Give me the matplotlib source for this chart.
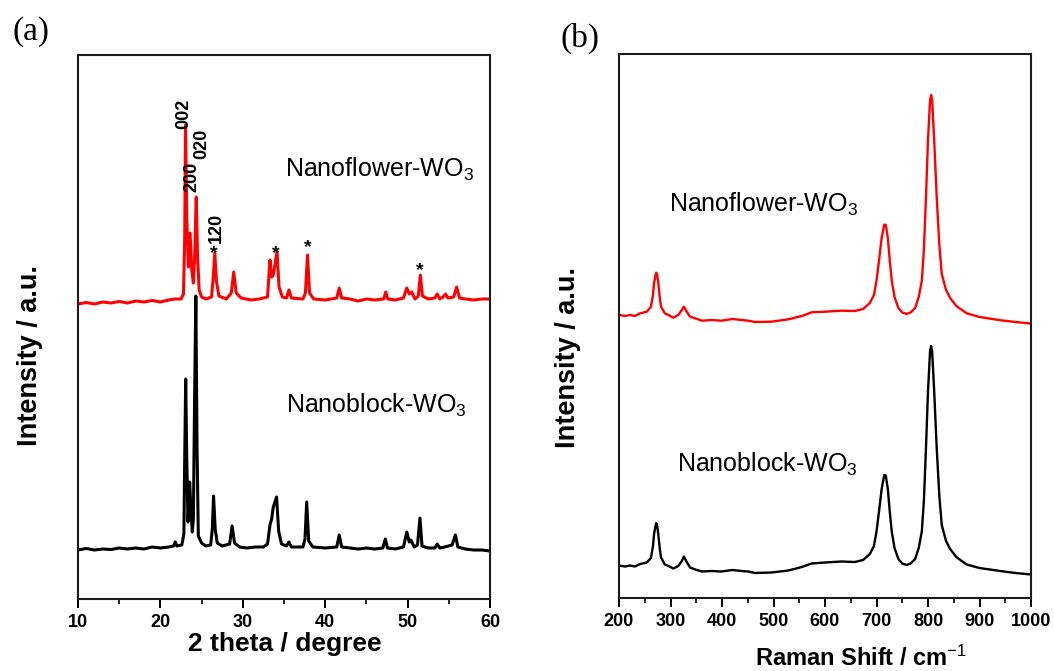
import matplotlib
matplotlib.use("Agg")
import matplotlib.pyplot as plt
from matplotlib.ticker import MultipleLocator

plt.rcParams['font.family'] = ['Liberation Sans', 'DejaVu Sans']
plt.rcParams['mathtext.fontset'] = 'custom'
plt.rcParams['mathtext.rm'] = 'Liberation Sans'
plt.rcParams['mathtext.it'] = 'Liberation Sans:italic'
plt.rcParams['mathtext.bf'] = 'Liberation Sans:bold'

# ---------------- XRD data (panel a) ----------------
xrd_flower_2theta = [10, 11, 12, 13, 14, 15, 16, 17, 18, 19, 20, 21, 21.8, 22.5, 22.8, 22.95,
                     23.05, 23.2, 23.4, 23.6, 23.8, 24.0, 24.15, 24.35, 24.5, 24.7, 25.0, 25.5,
                     26.2, 26.4, 26.6, 26.8, 27.1, 28.0, 28.6, 28.9, 29.2, 29.8, 31, 32, 33.0,
                     33.3, 33.5, 33.7, 34.15, 34.4, 34.8, 35.3, 35.6, 35.9, 37.3, 37.6, 37.85,
                     38.1, 38.6, 40, 41.4, 41.7, 42.0, 43, 44, 45, 46, 47.1, 47.35, 47.6, 48.5,
                     49.5, 49.9, 50.2, 50.5, 50.9, 51.3, 51.55, 51.8, 52.5, 53.3, 53.6, 53.9,
                     54.3, 54.6, 54.9, 55.6, 55.95, 56.3, 57, 58, 59, 60]
xrd_flower_int = [295, 296.5, 295, 297, 296, 297.5, 296, 298, 297, 298.5, 297, 299, 300, 300, 305, 360,
                  474, 380, 332, 366, 330, 316, 340, 402, 345, 309, 302, 300,
                  302, 320, 346, 318, 303, 300, 306, 327, 306, 301, 299, 300, 302,
                  339, 322, 324, 347, 312, 302, 301, 309, 301, 300, 306, 344,
                  306, 300, 299, 301, 311, 301, 300, 298, 300, 299, 300, 307, 300, 299,
                  301, 311, 305, 307, 300, 303, 324, 303, 300, 301, 305, 300,
                  302, 305, 301, 302, 312, 301, 300, 299, 300, 300]

xrd_block_2theta = [10, 11, 12, 13, 14, 15, 16, 17, 18, 19, 20, 21, 21.6, 21.8, 22.0, 22.6, 22.85,
                    22.95, 23.07, 23.2, 23.35, 23.55, 23.7, 23.87, 24.0, 24.15, 24.3, 24.45, 24.6,
                    25.0, 25.5, 26.1, 26.3, 26.45, 26.65, 26.9, 27.5, 28.4, 28.7, 29.0, 29.6, 30.5,
                    31.5, 32.5, 33.0, 33.3, 33.5, 33.7, 34.1, 34.35, 34.7, 35.3, 35.6, 35.9, 37.3,
                    37.55, 37.75, 38.0, 38.5, 40, 41.4, 41.7, 42.0, 43, 44, 45, 46, 47.0, 47.3,
                    47.55, 48.5, 49.5, 49.9, 50.2, 50.4, 50.8, 51.2, 51.5, 51.75, 52.5, 53.3, 53.6,
                    53.9, 54.5, 55.4, 55.8, 56.1, 57, 58, 59, 60]
xrd_block_int = [49, 50.5, 49, 50, 49.5, 51, 50, 51, 50, 52, 51, 52, 53, 57, 53, 54, 65,
                 140, 220, 140, 77, 117, 90, 67, 80, 200, 303, 150, 63,
                 56, 53, 54, 70, 103, 70, 56, 53, 55, 73, 56, 52, 51,
                 52, 52, 55, 74, 80, 92, 102, 68, 55, 53, 57, 52, 52,
                 60, 97, 58, 52, 51, 52, 64, 52, 51, 50, 51, 50, 51, 60,
                 51, 50, 52, 67, 57, 59, 52, 54, 81, 53, 51, 51, 55,
                 51, 52, 54, 64, 52, 50, 49, 49, 48]

hkl_labels = ['002', '200', '020', '120']
hkl_x = [22.8, 23.8, 25.05, 26.75]
hkl_y = [485.5, 422, 455, 371]
star_x = [26.5, 34.0, 37.9, 51.5]
star_y = [341, 341, 347, 323.5]

# ---------------- Raman data (panel b) ----------------
raman_shift = [200, 212, 221, 231, 241, 254, 262, 266, 268, 270.5, 272.5, 274.5, 276.4, 279,
               281.6, 289, 296, 305.5, 315, 322, 326, 331.5, 338, 348, 361, 380, 399, 420,
               438, 451, 464, 496, 529, 555, 574, 600, 632, 658, 674, 687, 695, 700, 705,
               710, 715, 718, 722, 726, 729.6, 735, 742.5, 750, 758.7, 766, 775, 782, 788,
               792, 796, 800, 804, 806, 808, 812, 817, 822, 826.7, 835, 843, 855, 875, 900,
               940, 970, 1000]
raman_flower = [283, 282, 283, 282, 284.7, 286.3, 291.3, 303, 314.7, 322, 325.3, 322, 314.7, 301,
                291.3, 284.7, 283, 280.3, 283, 288, 291.3, 286.3, 281.3, 279.7, 277.3, 278, 277.3, 279,
                278, 277.3, 276, 276.3, 278.7, 282, 285.7, 286.3, 287.3, 287, 289, 295, 303, 317.4, 338,
                360, 373.4, 373, 360, 336, 317.4, 301, 290, 285.5, 284, 285.5, 290, 301, 317.4,
                348, 400, 458, 498, 503, 498, 458, 400, 353, 324, 308, 300, 292, 284.7, 281,
                277.8, 276, 274.4]
raman_block = [32.5, 31.5, 32.5, 31.5, 34, 35.5, 40, 52, 63.5, 71, 75, 71, 63.5, 50,
               40.5, 33.5, 32, 29.5, 32, 37, 41.5, 36, 30.5, 28.5, 26.5, 27, 26.5, 28,
               27, 26.5, 25, 25.5, 27.5, 31, 34.5, 35.5, 36.5, 36, 38, 44, 52, 66.5, 87,
               109, 123, 122.5, 109, 85, 66.5, 50, 39, 34.5, 33, 34.5, 39, 50, 66.5,
               97, 149, 207, 247, 252, 247, 207, 149, 102, 73, 57, 49, 41, 33.5, 30,
               27, 25, 23.5]

W, H = 1054, 671
fig = plt.figure(figsize=(W / 100, H / 100), dpi=100)

axa = fig.add_axes([78 / W, 1 - 599 / H, 412 / W, 544 / H])
axb = fig.add_axes([619 / W, 1 - 598 / H, 412 / W, 544 / H])

for ax in (axa, axb):
    for s in ax.spines.values():
        s.set_linewidth(1.5)
        s.set_color('#1a1a1a')
    ax.tick_params(axis='x', which='major', direction='out', length=6.5, width=1.4,
                   labelsize=13, pad=4, top=False)
    ax.tick_params(axis='x', which='minor', direction='out', length=3.8, width=1.2, top=False)
    ax.tick_params(axis='y', which='both', left=False, right=False, labelleft=False)
    ax.set_ylim(0, 544)

# Panel (a)
axa.plot(xrd_flower_2theta, xrd_flower_int, color='#ff0000', lw=2.2)
axa.plot(xrd_block_2theta, xrd_block_int, color='black', lw=2.2)
axa.set_xlim(10, 60)
axa.xaxis.set_major_locator(MultipleLocator(10))
axa.xaxis.set_minor_locator(MultipleLocator(5))
for lab, x, y in zip(hkl_labels, hkl_x, hkl_y):
    axa.text(x, y, lab, rotation=90, ha='center', va='center', fontsize=13, fontweight='bold')
for x, y in zip(star_x, star_y):
    axa.text(x, y, '*', ha='center', va='baseline', fontsize=14, fontweight='bold')
axa.text(35.1, 422, 'Nanoflower-WO$_3$', fontsize=18, ha='left', va='baseline')
axa.text(35.3, 186, 'Nanoblock-WO$_3$', fontsize=18, ha='left', va='baseline')

# Panel (b)
axb.plot(raman_shift, raman_flower, color='#ff0000', lw=1.7)
axb.plot(raman_shift, raman_block, color='black', lw=1.7)
axb.set_xlim(200, 1000)
axb.xaxis.set_major_locator(MultipleLocator(100))
axb.xaxis.set_minor_locator(MultipleLocator(50))
axb.text(297, 386, 'Nanoflower-WO$_3$', fontsize=18, ha='left', va='baseline')
axb.text(312, 126.5, 'Nanoblock-WO$_3$', fontsize=18, ha='left', va='baseline')

for ax in (axa, axb):
    for lab in ax.get_xticklabels():
        lab.set_fontweight('bold')

# Axis labels
fig.text(285 / W, 1 - 651 / H, '2 theta / degree', ha='center', va='baseline',
         fontsize=19, fontweight='bold')
fig.text(755 / W, 1 - 666 / H, 'Raman Shift / cm$^{-1}$', ha='left', va='baseline',
         fontsize=17, fontweight='bold')
fig.text(30.5 / W, 1 - 356 / H, 'Intensity / a.u.', rotation=90, ha='center', va='center',
         fontsize=19.5, fontweight='bold')
fig.text(568 / W, 1 - 357 / H, 'Intensity / a.u.', rotation=90, ha='center', va='center',
         fontsize=19.5, fontweight='bold')

# Panel tags
fig.text(12 / W, 1 - 32 / H, '(a)', family='Liberation Serif', fontsize=24, ha='left', va='center')
fig.text(560 / W, 1 - 38 / H, '(b)', family='Liberation Serif', fontsize=24, ha='left', va='center')

fig.savefig('out.png', dpi=100)
